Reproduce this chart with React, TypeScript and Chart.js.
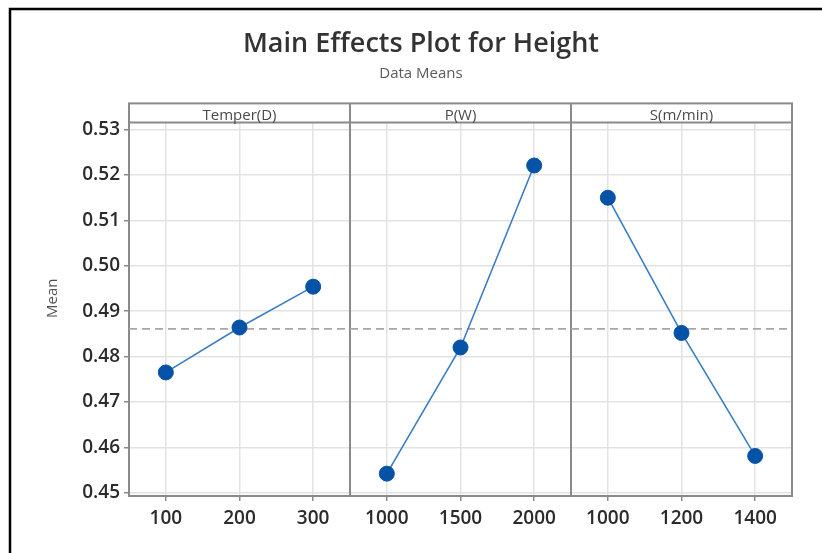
import React, { useEffect, useRef } from 'react';
import { Chart, registerables } from 'chart.js';

Chart.register(...registerables);

// ---- Data ----
const factorNames = ['Temper(D)', 'P(W)', 'S(m/min)'];
const temperLevels = ['100', '200', '300'];
const temperMeans = [0.4765, 0.4864, 0.4954];
const powerLevels = ['1000', '1500', '2000'];
const powerMeans = [0.4542, 0.482, 0.5221];
const speedLevels = ['1000', '1200', '1400'];
const speedMeans = [0.515, 0.4852, 0.4581];
const yTicks = [0.45, 0.46, 0.47, 0.48, 0.49, 0.5, 0.51, 0.52, 0.53];

const allLevels = [temperLevels, powerLevels, speedLevels];
const allMeans = [temperMeans, powerMeans, speedMeans];
const levelPos = (k: number, j: number) => k * 3 + 0.5 + j;

const FONT = "'Open Sans', 'Noto Sans', sans-serif";
const MARKER = '#0652A6';
const LINE = '#3A7EC6';
const FRAME = '#8A8A8A';

export default function App() {
  const ref = useRef<HTMLCanvasElement | null>(null);

  useEffect(() => {
    if (!ref.current) return;
    const all = allMeans.flat();
    const overall = all.reduce((a, b) => a + b, 0) / all.length;
    const tickPositions: number[] = [];
    allLevels.forEach((lv, k) => lv.forEach((_, j) => tickPositions.push(levelPos(k, j))));

    const datasets: any[] = allMeans.map((means, k) => ({
      label: factorNames[k],
      data: means.map((y, j) => ({ x: levelPos(k, j), y })),
      borderColor: LINE,
      borderWidth: 1.6,
      pointRadius: 7.5,
      pointBackgroundColor: MARKER,
      pointBorderColor: MARKER,
      pointBorderWidth: 1,
      showLine: true,
      order: 1,
    }));
    datasets.push({
      label: 'mean',
      data: [
        { x: 0, y: overall },
        { x: allLevels.length * 3, y: overall },
      ],
      borderColor: '#A6A6A6',
      borderWidth: 1.6,
      borderDash: [8, 5],
      pointRadius: 0,
      showLine: true,
      order: 2,
    });

    const framePlugin = {
      id: 'framePlugin',
      beforeDatasetsDraw(chart: any) {
        const { ctx, chartArea } = chart;
        const xs = chart.scales.x;
        const headTop = chartArea.top - 19;
        ctx.save();
        ctx.strokeStyle = FRAME;
        ctx.lineWidth = 2;
        ctx.strokeRect(chartArea.left, headTop, chartArea.right - chartArea.left, chartArea.bottom - headTop);
        ctx.beginPath();
        ctx.moveTo(chartArea.left, chartArea.top);
        ctx.lineTo(chartArea.right, chartArea.top);
        for (let k = 1; k < factorNames.length; k++) {
          const px = xs.getPixelForValue(k * 3);
          ctx.moveTo(px, headTop);
          ctx.lineTo(px, chartArea.bottom);
        }
        ctx.stroke();
        ctx.fillStyle = '#4A4A4A';
        ctx.font = `15px ${FONT}`;
        ctx.textAlign = 'center';
        ctx.textBaseline = 'middle';
        factorNames.forEach((name, k) => {
          const cx = (xs.getPixelForValue(k * 3) + xs.getPixelForValue(k * 3 + 3)) / 2;
          ctx.fillText(name, cx, headTop + 12);
        });
        ctx.restore();
      },
      afterDraw(chart: any) {
        const { ctx, chartArea } = chart;
        ctx.save();
        ctx.fillStyle = '#505050';
        ctx.font = `15px ${FONT}`;
        ctx.textAlign = 'center';
        ctx.textBaseline = 'middle';
        ctx.translate(53, (chartArea.top + chartArea.bottom) / 2 - 11);
        ctx.rotate(-Math.PI / 2);
        ctx.fillText('Mean', 0, 0);
        ctx.restore();
        // outer image frame
        ctx.save();
        ctx.strokeStyle = '#000';
        ctx.lineWidth = 2.5;
        ctx.beginPath();
        ctx.moveTo(10, chart.height + 5);
        ctx.lineTo(10, 9);
        ctx.lineTo(chart.width + 5, 9);
        ctx.stroke();
        ctx.restore();
      },
    };

    const chart = new Chart(ref.current, {
      type: 'scatter',
      data: { datasets },
      plugins: [framePlugin],
      options: {
        animation: false,
        responsive: false,
        devicePixelRatio: 1,
        layout: { padding: { left: 50, right: 30, top: 0, bottom: 0 } },
        plugins: {
          legend: { display: false },
          tooltip: { enabled: false },
          title: {
            display: true,
            text: 'Main Effects Plot for Height',
            color: '#333333',
            font: { family: FONT, size: 27, weight: '600' },
            padding: { top: 28, bottom: 0 },
          },
          subtitle: {
            display: true,
            text: 'Data Means',
            color: '#5A5A5A',
            font: { family: FONT, size: 15, weight: 'normal' },
            padding: { top: 4, bottom: 40 },
          },
        },
        scales: {
          x: {
            type: 'linear',
            min: 0,
            max: allLevels.length * 3,
            afterBuildTicks: (scale: any) => {
              scale.ticks = tickPositions.map((v) => ({ value: v }));
            },
            afterFit: (scale: any) => {
              scale.height = 57;
            },
            ticks: {
              autoSkip: false,
              maxRotation: 0,
              padding: 6,
              color: '#2B2B2B',
              font: { family: FONT, size: 19, weight: '600' },
              callback: (value: any) => {
                const v = Number(value);
                const k = Math.floor(v / 3);
                const j = Math.round(v - k * 3 - 0.5);
                return allLevels[k] ? allLevels[k][j] : '';
              },
            },
            grid: { color: '#E3E3E3', lineWidth: 1.5, tickColor: FRAME, tickLength: 5, tickWidth: 1.5 },
            border: { display: false },
          },
          y: {
            type: 'linear',
            min: 0.44927,
            max: 0.5316,
            afterBuildTicks: (scale: any) => {
              scale.ticks = yTicks.map((v) => ({ value: v }));
            },
            afterFit: (scale: any) => {
              scale.width = 79;
            },
            ticks: {
              padding: 4,
              color: '#2B2B2B',
              font: { family: FONT, size: 19, weight: '600' },
              callback: (value: any) => Number(value).toFixed(2),
            },
            grid: { color: '#E3E3E3', lineWidth: 1.5, tickColor: FRAME, tickLength: 5, tickWidth: 1.5 },
            border: { display: false },
          },
        },
      },
    });
    return () => chart.destroy();
  }, []);

  return (
    <div style={{ position: 'fixed', left: 0, top: 0, width: 822, height: 553, background: '#fff' }}>
      <canvas ref={ref} width={822} height={553} />
    </div>
  );
}
